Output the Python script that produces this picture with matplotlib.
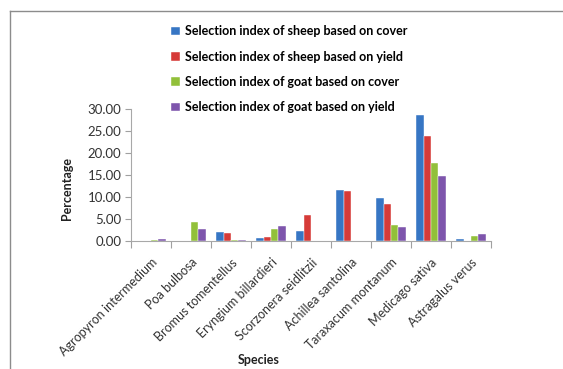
import numpy as np
import matplotlib
matplotlib.use("Agg")
import matplotlib.pyplot as plt
from matplotlib.lines import Line2D

# =========================
# DATA
# =========================
species = [
    "Agropyron intermedium", "Poa bulbosa", "Bromus tomentellus",
    "Eryngium billardieri", "Scorzonera seidlitzii", "Achillea santolina",
    "Taraxacum montanum", "Medicago sativa", "Astragalus verus",
]
sheep_cover = [0.1, 0.0, 2.0, 0.7, 2.2, 11.7, 9.7, 28.6, 0.5]
sheep_yield = [0.1, 0.0, 1.8, 0.9, 6.0, 11.3, 8.5, 23.9, 0.0]
goat_cover = [0.3, 4.4, 0.2, 2.8, 0.0, 0.0, 3.6, 17.7, 1.2]
goat_yield = [0.4, 2.7, 0.2, 3.4, 0.0, 0.0, 3.2, 14.8, 1.5]

series = [
    ("Selection index of sheep based on cover", sheep_cover, "#3776C4"),
    ("Selection index of sheep based on yield", sheep_yield, "#D63B38"),
    ("Selection index of goat based on cover", goat_cover, "#92C03A"),
    ("Selection index of goat based on yield", goat_yield, "#7E55AC"),
]

# =========================
# PLOT
# =========================
plt.rcParams["font.family"] = ["Lato", "DejaVu Sans"]

W, H = 563, 369
fig = plt.figure(figsize=(W / 100, H / 100), dpi=100)
ax = fig.add_axes([131 / W, 1 - 241 / H, (491 - 131) / W, (241 - 109) / H])

x = np.arange(len(species))
bw = 0.185
for i, (label, vals, color) in enumerate(series):
    ax.bar(x + (i - 1.5) * bw, vals, width=bw, color=color, label=label,
           edgecolor="#FFFFFF", linewidth=0.3)

ax.set_xlim(-0.5, len(species) - 0.5)
ax.set_ylim(0, 30)
ax.set_yticks(np.arange(0, 31, 5))
ax.set_yticklabels([f"{v:.2f}" for v in np.arange(0, 31, 5)], fontsize=9.5, color="#333333")

# ticks between categories, labels at centres
ax.set_xticks(np.arange(-0.5, len(species), 1.0))
ax.set_xticklabels([])
ax.set_xticks(x, minor=True)
ax.set_xticklabels(species, minor=True, rotation=45, ha="right",
                   rotation_mode="anchor", fontsize=9, color="#333333")
ax.tick_params(axis="x", which="major", length=5, color="#A0A0A0")
ax.tick_params(axis="x", which="minor", length=0, pad=11)
ax.tick_params(axis="y", length=4, color="#A0A0A0", pad=3)

for s in ["top", "right"]:
    ax.spines[s].set_visible(False)
for s in ["left", "bottom"]:
    ax.spines[s].set_color("#A8A8A8")

fig.text(67 / W, 1 - 188 / H, "Percentage", rotation=90, ha="center", va="center",
         fontsize=9, fontweight="bold", color="#222222")
fig.text(259 / W, 1 - 360 / H, "Species", ha="center", va="center",
         fontsize=9, fontweight="bold", color="#222222")

fig.legend(loc="upper left", bbox_to_anchor=(165 / W, 1 - 19 / H), frameon=False,
           prop={"weight": "bold", "size": 9}, handlelength=0.7,
           handleheight=0.7, handletextpad=0.4, labelspacing=1.07, borderpad=0)

# chart area border (top and left edges visible)
fig.add_artist(Line2D([10 / W, 1], [1 - 11 / H, 1 - 11 / H], color="#8C8C8C", lw=1))
fig.add_artist(Line2D([10 / W, 10 / W], [0, 1 - 11 / H], color="#8C8C8C", lw=1))

fig.savefig("out.png", dpi=100)
